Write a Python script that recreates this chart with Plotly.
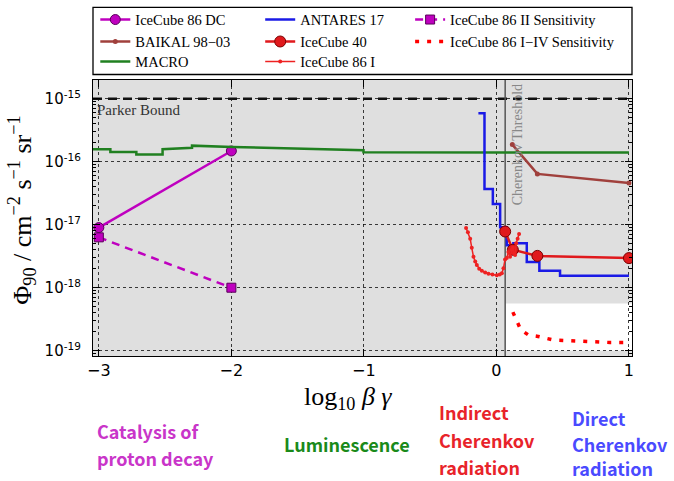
import plotly.graph_objects as go
import numpy as np

# ---------------- data ----------------
macro_x = [-3.044, -2.913, -2.913, -2.717, -2.717, -2.519, -2.519, -2.387, -2.387, -2.297, -2.297, -1.995, -1.003, -1.003, 1.0]
macro_y = [1.58e-16, 1.58e-16, 1.43e-16, 1.43e-16, 1.30e-16, 1.30e-16, 1.58e-16, 1.62e-16, 1.66e-16, 1.66e-16, 1.80e-16, 1.71e-16, 1.52e-16, 1.41e-16, 1.40e-16]

dc_x = [-3.0, -2.0]
dc_y = [9.0e-18, 1.48e-16]

ic86ii_x = [-3.0, -2.0]
ic86ii_y = [6.3e-18, 1.0e-18]

baikal_x = [0.12, 0.309, 1.0]
baikal_y = [1.87e-16, 6.4e-17, 4.6e-17]

antares_x = [-0.136, -0.090, -0.027, 0.028, 0.078, 0.128, 0.229, 0.324, 0.48, 1.0]
antares_y = [5.9e-16, 3.7e-17, 2.14e-17, 9.1e-18, 4.7e-18, 5.1e-18, 2.57e-18, 1.86e-18, 1.55e-18, 1.55e-18]

ic40_x = [0.066, 0.124, 0.309, 1.0]
ic40_y = [7.8e-18, 4.0e-18, 3.2e-18, 2.95e-18]

ic86i_x = [-0.229, -0.215, -0.198, -0.186, -0.173, -0.160, -0.148, -0.130, -0.110, -0.085, -0.060, -0.030,
           0.003, 0.025, 0.041, 0.053, 0.065, 0.078, 0.090, 0.103, 0.115, 0.124, 0.133, 0.141, 0.149, 0.160, 0.171]
ic86i_y = [8.9e-18, 7.6e-18, 6.0e-18, 4.3e-18, 3.1e-18, 2.6e-18, 2.3e-18, 2.0e-18, 1.86e-18, 1.74e-18, 1.66e-18, 1.62e-18,
           1.58e-18, 1.62e-18, 1.70e-18, 2.04e-18, 2.8e-18, 2.95e-18, 3.7e-18, 3.1e-18, 4.0e-18, 4.3e-18, 3.5e-18, 3.3e-18, 5.1e-18, 6.0e-18, 7.1e-18]

ic86iv_x = [0.124, 0.154, 0.184, 0.241, 0.305, 0.43, 0.63, 0.857, 0.983]
ic86iv_y = [4.1e-19, 2.95e-19, 2.14e-19, 1.78e-19, 1.70e-19, 1.48e-19, 1.41e-19, 1.35e-19, 1.35e-19]

parker_bound = 1e-15
cherenkov_threshold = 0.066
white_region_y = [1.0e-19, 5.6e-19]

x_ticks = [-3, -2, -1, 0, 1]
x_ticklabels = ["\u22123", "\u22122", "\u22121", "0", "1"]
y_ticks = [1e-19, 1e-18, 1e-17, 1e-16, 1e-15]
y_ticklabels = ["10<sup>-19</sup>", "10<sup>-18</sup>", "10<sup>-17</sup>", "10<sup>-16</sup>", "10<sup>-15</sup>"]

x_range = [-3.044, 1.023]
y_range = [-19.084, -14.703]

# ---------------- figure ----------------
fig = go.Figure()
serif = "Liberation Serif"

fig.add_trace(go.Scatter(x=x_range, y=[parker_bound, parker_bound], mode="lines",
                         line=dict(color="#111111", width=2.5, dash="9px,6px"), showlegend=False, hoverinfo="skip"))
fig.add_trace(go.Scatter(x=[cherenkov_threshold, cherenkov_threshold], y=[10**y_range[0], 10**y_range[1]], mode="lines",
                         line=dict(color="#555555", width=1.5), showlegend=False, hoverinfo="skip"))

# legend grid entries
fig.add_trace(go.Scatter(x=dc_x, y=dc_y, mode="lines+markers", name="IceCube 86 DC", legend="legend",
                         line=dict(color="#bf00bf", width=2.5),
                         marker=dict(size=10, color="#bf00bf", line=dict(color="#5a005a", width=1))))
fig.add_trace(go.Scatter(x=baikal_x, y=baikal_y, mode="lines+markers", name="BAIKAL 98\u221203", legend="legend2",
                         line=dict(color="#a0403c", width=2.5),
                         marker=dict(size=5, color="#a0403c")))
fig.add_trace(go.Scatter(x=macro_x, y=macro_y, mode="lines", name="MACRO", legend="legend3",
                         line=dict(color="#208020", width=2.5)))
fig.add_trace(go.Scatter(x=antares_x, y=antares_y, mode="lines", name="ANTARES 17", line_shape="hv", legend="legend4",
                         line=dict(color="#1a1ae6", width=2.5)))
fig.add_trace(go.Scatter(x=ic40_x, y=ic40_y, mode="lines+markers", name="IceCube 40", legend="legend5",
                         line=dict(color="#e0191c", width=2.5),
                         marker=dict(size=11, color="#e0191c", line=dict(color="#7a0000", width=1))))
fig.add_trace(go.Scatter(x=ic86i_x, y=ic86i_y, mode="lines+markers", name="IceCube 86 I", legend="legend6",
                         line=dict(color="#ee2222", width=1.5),
                         marker=dict(size=4, color="#ee2222")))
fig.add_trace(go.Scatter(x=ic86ii_x, y=ic86ii_y, mode="lines+markers", name="IceCube 86 II Sensitivity", legend="legend7",
                         line=dict(color="#bf00bf", width=2.5, dash="8px,6px"),
                         marker=dict(size=9, symbol="square", color="#bf00bf", line=dict(color="#5a005a", width=1))))
fig.add_trace(go.Scatter(x=ic86iv_x, y=ic86iv_y, mode="lines", name="IceCube 86 I\u2212IV Sensitivity", legend="legend8",
                         line=dict(color="#ff0000", width=3.5, dash="4px,8px")))

# white region (no background shading) above threshold
fig.add_shape(type="rect", xref="x", yref="y", x0=cherenkov_threshold, x1=x_range[1],
              y0=white_region_y[0], y1=white_region_y[1], fillcolor="white", line_width=0, layer="below")
# legend frame
fig.add_shape(type="rect", xref="paper", yref="paper", x0=0, x1=1, y0=1.020, y1=1.263,
              fillcolor="white", line=dict(color="black", width=1.3), layer="below")

axis_common = dict(showline=True, linecolor="black", linewidth=1.3, mirror="allticks",
                   ticks="inside", tickcolor="black", ticklen=7, automargin=False,
                   showgrid=True, gridcolor="rgba(0,0,0,0.75)", griddash="dot", gridwidth=1,
                   zeroline=False)

fig.update_xaxes(range=x_range, tickvals=x_ticks, ticktext=x_ticklabels, ticklabelstandoff=0,
                 tickfont=dict(family="DejaVu Sans", size=16, color="black"), **axis_common)
fig.update_yaxes(type="log", range=y_range, tickvals=y_ticks, ticktext=y_ticklabels, ticklabelstandoff=8,
                 tickfont=dict(family="DejaVu Sans", size=15, color="black"),
                 minor=dict(ticks="inside", ticklen=3, tickcolor="black", showgrid=False,
                            tickvals=[m * 10.0**e for e in range(-20, -14) for m in range(2, 10)]),
                 **axis_common)

annotations = [
    dict(x=-3.03, y=np.log10(parker_bound) - 0.185, xref="x", yref="y", text="Parker Bound", showarrow=False,
         xanchor="left", yanchor="middle", font=dict(family=serif, size=15, color="#333333")),
    dict(x=0.156, y=0.99, xref="x", yref="paper", text="Cherenkov Threshold", showarrow=False, textangle=-90,
         xanchor="center", yanchor="top", font=dict(family=serif, size=14, color="#888888")),
    dict(x=-0.131, y=0.528, xref="paper", yref="paper",
         text="\u03a6<sub>90</sub> / cm<sup>\u22122</sup> s<sup>\u22121</sup> sr<sup>\u22121</sup>",
         showarrow=False, textangle=-90, xanchor="center", yanchor="middle",
         font=dict(family=serif, size=26, color="black")),
    dict(x=0.473, y=-0.152, xref="paper", yref="paper", text="log<sub>10</sub> <i>\u03b2 \u03b3</i>",
         showarrow=False, xanchor="center", yanchor="middle", font=dict(family=serif, size=26, color="black")),
]

def px_x(px):
    return (px - 92.7) / 539.3

def px_y(py):
    return (356 - py) / 276.5

bottom_labels = [
    ("Catalysis of", 95, 431, "#c935c9"),
    ("proton decay", 95, 458, "#c935c9"),
    ("Luminescence", 282, 444, "#1a8a1a"),
    ("Indirect", 437, 412, "#e8232a"),
    ("Cherenkov", 437, 440, "#e8232a"),
    ("radiation", 437, 467, "#e8232a"),
    ("Direct", 570, 418, "#4a4aff"),
    ("Cherenkov", 570, 444, "#4a4aff"),
    ("radiation", 570, 468, "#4a4aff"),
]
for txt, lx, cy, col in bottom_labels:
    annotations.append(dict(x=px_x(lx), y=px_y(cy), xref="paper", yref="paper", text=f"<b>{txt}</b>",
                            showarrow=False, xanchor="left", yanchor="middle",
                            font=dict(family="Noto Sans CJK KR", size=18, color=col)))

legend_common = dict(orientation="v", yanchor="middle", xanchor="left",
                     bgcolor="rgba(0,0,0,0)", borderwidth=0, tracegroupgap=0,
                     font=dict(family=serif, size=14.5, color="black"))
col_px = [95, 260, 410]
row_px = [19, 41, 61]
legend_slots = {
    "legend": (0, 0), "legend2": (0, 1), "legend3": (0, 2),
    "legend4": (1, 0), "legend5": (1, 1), "legend6": (1, 2),
    "legend7": (2, 0), "legend8": (2, 1),
}
legend_layout = {k: dict(x=px_x(col_px[c]), y=px_y(row_px[r]), **legend_common) for k, (c, r) in legend_slots.items()}

fig.update_layout(
    width=674, height=481,
    margin=dict(l=93, r=42, t=80, b=125, autoexpand=False),
    paper_bgcolor="white", plot_bgcolor="#dfdfdf",
    annotations=annotations,
    showlegend=True,
    **legend_layout,
)

fig.write_html("out.html")
